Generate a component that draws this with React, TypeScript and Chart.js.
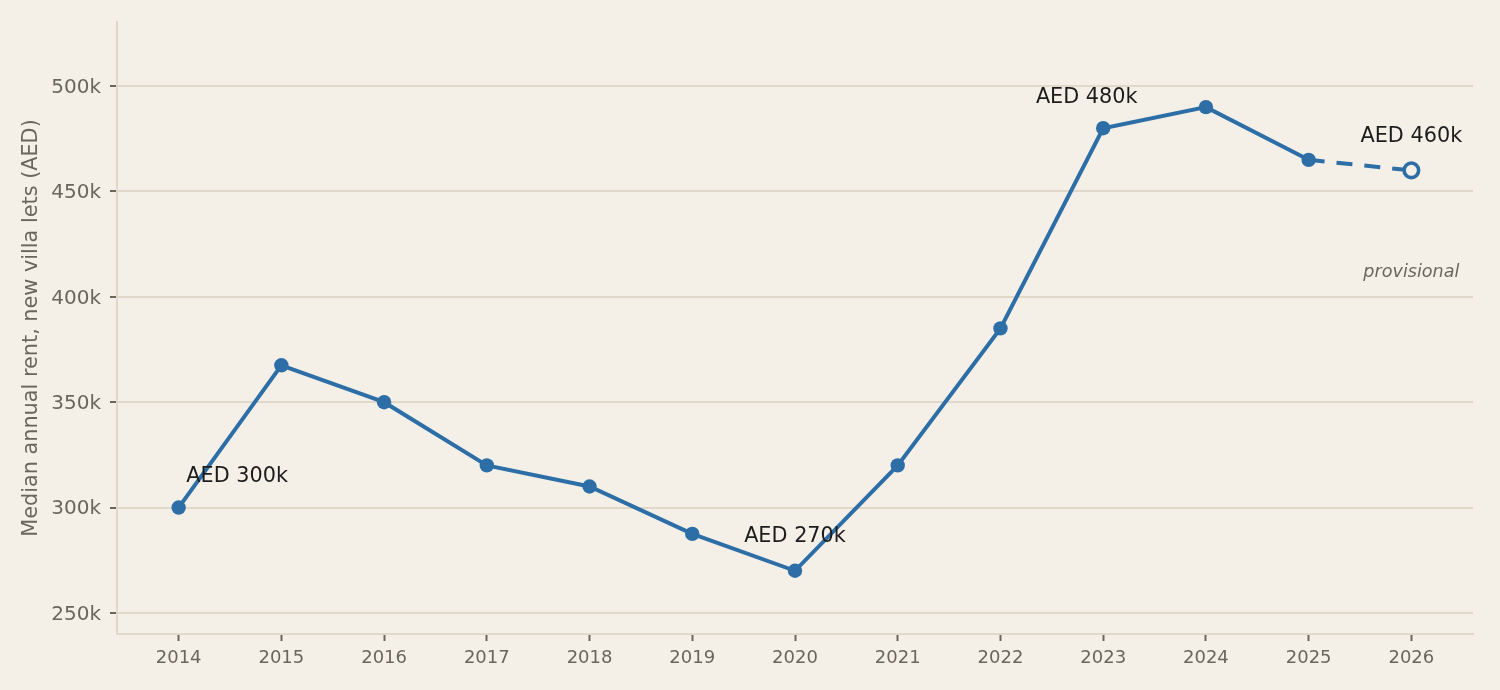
import React, { useRef, useEffect } from "react";
import { Chart, registerables } from "chart.js";

Chart.register(...registerables);

// values
const years = [2014, 2015, 2016, 2017, 2018, 2019, 2020, 2021, 2022, 2023, 2024, 2025, 2026];
const medianRent = [300000, 367500, 350000, 320000, 310000, 287500, 270000, 320000, 385000, 480000, 490000, 465000, 460000];
const yTickValues = [250000, 300000, 350000, 400000, 450000, 500000];

// callouts, placed in data coordinates (text baseline)
const calloutLabels = ["AED 300k", "AED 270k", "AED 480k", "AED 460k"];
const calloutYears = [2014.57, 2020, 2022.84, 2026];
const calloutValues = [312000, 283500, 491800, 473600];
const noteLabel = "provisional";
const noteYear = 2026;
const noteValue = 409500;

const BG = "#f4f0e8";
const BLUE = "#2e6ea7";
const GRID = "#e0d8c8";
const MUTED = "#6b665c";
const INK = "#1c1c1c";
const FONT = "'DejaVu Sans', sans-serif";

const calloutPlugin = {
  id: "callouts",
  afterDatasetsDraw(chart: Chart) {
    const { ctx, scales } = chart;
    const x = scales.x;
    const y = scales.y;
    ctx.save();
    ctx.textAlign = "center";
    ctx.textBaseline = "alphabetic";
    ctx.fillStyle = INK;
    ctx.font = `20.8px ${FONT}`;
    calloutLabels.forEach((label, i) => {
      ctx.fillText(label, x.getPixelForValue(calloutYears[i]), y.getPixelForValue(calloutValues[i]));
    });
    ctx.fillStyle = MUTED;
    ctx.font = `italic 17.6px ${FONT}`;
    ctx.fillText(noteLabel, x.getPixelForValue(noteYear), y.getPixelForValue(noteValue));
    ctx.restore();
  },
};

const RentChart: React.FC = () => {
  const canvasRef = useRef<HTMLCanvasElement>(null);
  const chartRef = useRef<Chart | null>(null);

  useEffect(() => {
    if (!canvasRef.current) return;
    if (chartRef.current) chartRef.current.destroy();

    const last = years.length - 1;
    const points = years.map((yr, i) => ({ x: yr, y: medianRent[i] }));

    chartRef.current = new Chart(canvasRef.current, {
      type: "line",
      data: {
        datasets: [
          {
            data: points,
            borderColor: BLUE,
            borderWidth: 4,
            tension: 0,
            pointRadius: (c: any) => (c.dataIndex === last ? 7.3 : 7.2),
            pointBorderWidth: (c: any) => (c.dataIndex === last ? 3.6 : 0),
            pointBackgroundColor: (c: any) => (c.dataIndex === last ? BG : BLUE),
            pointBorderColor: BLUE,
            pointHoverRadius: 7,
            segment: {
              borderDash: (c: any) => (c.p1DataIndex === last ? [16, 12] : undefined),
            },
          },
        ],
      },
      options: {
        animation: false,
        responsive: true,
        maintainAspectRatio: false,
        layout: { padding: { left: 0, right: 27, top: 22, bottom: 0 } },
        plugins: {
          legend: { display: false },
          tooltip: { enabled: false },
        },
        scales: {
          x: {
            type: "linear",
            min: 2013.4,
            max: 2026.6,
            afterBuildTicks: (scale: any) => {
              scale.ticks = years.map((v) => ({ value: v }));
            },
            afterFit: (scale: any) => {
              scale.height = 56;
            },
            border: { color: GRID, width: 2 },
            grid: {
              drawOnChartArea: false,
              drawTicks: true,
              tickLength: 7,
              tickColor: MUTED,
              tickWidth: 2,
            },
            ticks: {
              color: MUTED,
              padding: 7,
              maxRotation: 0,
              autoSkip: false,
              font: { family: FONT, size: 18 },
              callback: (v: any) => String(v),
            },
          },
          y: {
            type: "linear",
            min: 240000,
            max: 530400,
            afterBuildTicks: (scale: any) => {
              scale.ticks = yTickValues.map((v) => ({ value: v }));
            },
            afterFit: (scale: any) => {
              scale.width = 117;
            },
            border: { color: GRID, width: 2 },
            grid: {
              color: GRID,
              lineWidth: 2,
              drawTicks: true,
              tickLength: 7,
              tickColor: MUTED,
              tickWidth: 2,
            },
            ticks: {
              color: MUTED,
              padding: 9,
              labelOffset: 1.5,
              font: { family: FONT, size: 20 },
              callback: (v: any) => `${Math.round(Number(v) / 1000)}k`,
            },
            title: {
              display: true,
              text: "Median annual rent, new villa lets (AED)",
              color: MUTED,
              font: { family: FONT, size: 20.8 },
              padding: { top: 19, bottom: 0 },
            },
          },
        },
      },
      plugins: [calloutPlugin],
    });

    return () => {
      if (chartRef.current) {
        chartRef.current.destroy();
        chartRef.current = null;
      }
    };
  }, []);

  return (
    <div style={{ position: "fixed", left: 0, top: 0, width: 1500, height: 690, background: BG }}>
      <canvas ref={canvasRef}></canvas>
    </div>
  );
};

export default function App() {
  return <RentChart />;
}
